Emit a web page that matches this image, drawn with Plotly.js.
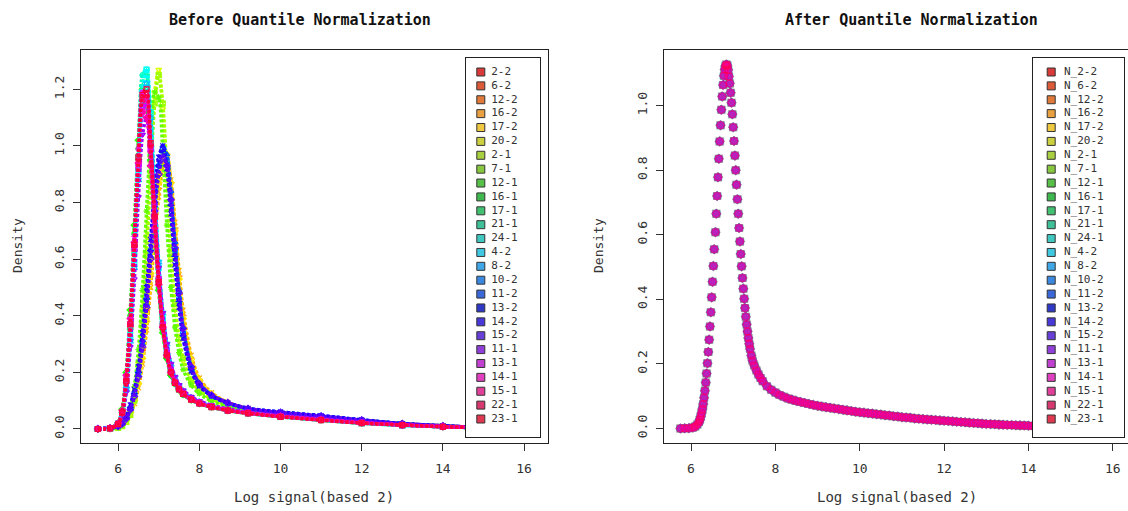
<!DOCTYPE html>
<html>
<head>
<meta charset="utf-8">
<script src="https://cdn.plot.ly/plotly-3.0.1.min.js"></script>
<style>
html,body{margin:0;padding:0;background:#fff;}
#chart{width:1128px;height:511px;}
</style>
</head>
<body>
<div id="chart"></div>
<script>
// ---------------- DATA ----------------
const sampleNames = ['2-2','6-2','12-2','16-2','17-2','20-2','2-1','7-1','12-1','16-1','17-1','21-1','24-1',
  '4-2','8-2','10-2','11-2','13-2','14-2','15-2','11-1','13-1','14-1','15-1','22-1','23-1'];
const normNames = sampleNames.map(function(s){ return 'N_' + s; });

// density grid (log2 signal) used for the "before" curves
const xBefore = [5.5, 5.8, 6.0, 6.1, 6.2, 6.3, 6.4, 6.5, 6.6, 6.7, 6.8, 6.9, 7.0, 7.1, 7.2, 7.3, 7.4, 7.5, 7.6, 7.8, 8.0, 8.3, 8.7, 9.2, 10, 11, 12, 13, 14, 15, 16, 16.2];

// densities before normalization (one array per sample)
const b_2_2  = [0,.002,.018,.06,.17,.36,.63,.92,1.12,1.14,.98,.74,.52,.36,.26,.2,.165,.142,.125,.105,.092,.08,.068,.058,.046,.034,.023,.015,.009,.004,.0015,.0005];
const b_6_2  = [0,.002,.008,.016,.035,.065,.11,.18,.28,.42,.59,.76,.89,.96,.95,.84,.67,.5,.37,.23,.165,.12,.09,.07,.056,.043,.03,.018,.01,.005,.002,.001];
const b_12_2 = [0,.002,.007,.015,.032,.06,.1,.16,.25,.38,.54,.71,.85,.94,.96,.87,.71,.54,.4,.25,.175,.125,.093,.071,.057,.044,.03,.019,.011,.005,.002,.001];
const b_16_2 = [0,.002,.006,.013,.028,.053,.09,.145,.23,.35,.5,.67,.82,.92,.95,.88,.73,.56,.42,.26,.18,.128,.094,.072,.057,.044,.03,.019,.011,.005,.002,.001];
const b_17_2 = [0,.002,.007,.015,.031,.058,.1,.16,.25,.38,.55,.72,.87,.96,.97,.87,.7,.53,.39,.245,.172,.124,.092,.071,.056,.043,.03,.019,.011,.005,.002,.001];
const b_20_2 = [0,.001,.005,.012,.03,.06,.12,.23,.42,.68,.96,1.19,1.27,1.13,.86,.6,.42,.31,.24,.17,.135,.105,.083,.066,.052,.039,.026,.016,.01,.005,.002,.001];
const b_2_1  = [0,.001,.004,.01,.025,.05,.1,.2,.37,.62,.9,1.15,1.25,1.15,.9,.63,.44,.32,.25,.175,.138,.107,.084,.067,.053,.04,.027,.017,.01,.005,.002,.001];
const b_7_1  = [0,.001,.006,.015,.036,.075,.15,.28,.49,.77,1.03,1.19,1.17,.98,.72,.5,.36,.27,.21,.155,.125,.098,.079,.064,.05,.038,.026,.016,.01,.005,.002,.001];
const b_12_1 = [0,.003,.022,.07,.2,.42,.72,1.02,1.2,1.15,.95,.7,.49,.34,.25,.19,.16,.138,.122,.103,.09,.078,.066,.057,.045,.033,.022,.014,.008,.004,.0015,.0005];
const b_16_1 = [0,.003,.02,.065,.19,.4,.69,.99,1.17,1.15,.97,.72,.5,.35,.25,.19,.16,.138,.122,.103,.09,.078,.066,.056,.044,.032,.021,.014,.008,.004,.0015,.0005];
const b_17_1 = [0,.002,.018,.06,.17,.37,.65,.96,1.19,1.2,1.01,.75,.52,.36,.26,.2,.163,.14,.124,.104,.091,.078,.066,.056,.044,.032,.021,.014,.008,.004,.0015,.0005];
const b_21_1 = [0,.002,.016,.055,.16,.35,.63,.95,1.21,1.25,1.06,.78,.53,.37,.26,.2,.163,.14,.123,.103,.09,.077,.065,.055,.043,.031,.021,.013,.008,.004,.0015,.0005];
const b_24_1 = [0,.002,.015,.05,.15,.34,.62,.96,1.25,1.27,1.06,.77,.52,.36,.26,.2,.162,.14,.123,.103,.09,.077,.065,.055,.043,.031,.02,.013,.008,.004,.0015,.0005];
const b_4_2  = [0,.002,.014,.048,.14,.32,.59,.91,1.19,1.27,1.12,.84,.57,.39,.28,.21,.17,.145,.128,.107,.093,.079,.066,.056,.044,.032,.021,.013,.008,.004,.0015,.0005];
const b_8_2  = [0,.003,.016,.05,.14,.31,.57,.88,1.14,1.22,1.1,.84,.59,.41,.3,.23,.18,.153,.134,.111,.096,.081,.068,.058,.046,.034,.022,.014,.008,.004,.0015,.0005];
const b_10_2 = [.001,.003,.01,.02,.04,.075,.125,.2,.31,.46,.63,.8,.93,.99,.95,.81,.63,.46,.34,.21,.155,.117,.09,.07,.057,.045,.031,.019,.011,.005,.002,.001];
const b_11_2 = [.001,.003,.009,.019,.038,.07,.12,.19,.3,.44,.61,.79,.93,1.0,.97,.84,.66,.49,.36,.22,.16,.12,.093,.073,.06,.047,.032,.019,.011,.005,.002,.001];
const b_13_2 = [.001,.003,.01,.02,.04,.075,.125,.2,.31,.46,.63,.8,.93,.98,.93,.79,.61,.45,.33,.21,.155,.118,.092,.072,.059,.046,.032,.019,.011,.005,.002,.001];
const b_14_2 = [.001,.004,.011,.022,.045,.085,.14,.22,.34,.5,.67,.84,.96,1.0,.92,.76,.58,.43,.32,.205,.152,.117,.092,.073,.06,.047,.032,.019,.011,.005,.002,.001];
const b_15_2 = [.001,.003,.009,.018,.036,.068,.115,.185,.29,.43,.6,.77,.9,.96,.93,.81,.64,.48,.355,.22,.16,.12,.093,.072,.058,.045,.031,.019,.011,.005,.002,.001];
const b_11_1 = [0,.004,.018,.05,.13,.29,.53,.82,1.04,1.1,1.0,.79,.57,.41,.3,.23,.185,.156,.137,.114,.099,.084,.071,.06,.048,.036,.024,.015,.009,.004,.0015,.0005];
const b_13_1 = [0,.003,.019,.06,.17,.37,.64,.93,1.13,1.15,.99,.75,.53,.37,.27,.205,.167,.143,.126,.106,.092,.079,.067,.057,.045,.033,.022,.014,.008,.004,.0015,.0005];
const b_14_1 = [0,.002,.019,.062,.18,.39,.68,.99,1.19,1.17,.98,.73,.51,.36,.26,.2,.163,.14,.124,.104,.091,.078,.066,.056,.044,.032,.021,.014,.008,.004,.0015,.0005];
const b_15_1 = [0,.003,.02,.065,.19,.39,.66,.94,1.12,1.1,.93,.71,.51,.36,.26,.2,.165,.142,.125,.105,.092,.079,.067,.057,.045,.033,.022,.014,.008,.004,.0015,.0005];
const b_22_1 = [0,.002,.018,.06,.17,.37,.65,.95,1.16,1.18,1.0,.75,.52,.36,.26,.2,.163,.14,.124,.104,.09,.078,.066,.056,.044,.032,.021,.014,.008,.004,.0015,.0005];
const b_23_1 = [0,.002,.017,.058,.17,.37,.65,.96,1.18,1.2,1.01,.75,.52,.36,.26,.2,.163,.14,.124,.104,.09,.077,.065,.055,.043,.031,.021,.014,.008,.004,.0015,.0005];

const beforeDensities = [b_2_2,b_6_2,b_12_2,b_16_2,b_17_2,b_20_2,b_2_1,b_7_1,b_12_1,b_16_1,b_17_1,b_21_1,b_24_1,
  b_4_2,b_8_2,b_10_2,b_11_2,b_13_2,b_14_2,b_15_2,b_11_1,b_13_1,b_14_1,b_15_1,b_22_1,b_23_1];

// after quantile normalization every sample has the same density
const xAfter = [5.75,5.85,5.95,6.05,6.1,6.15,6.19,6.21,6.23,6.25,6.27,6.29,6.31,6.33,6.35,6.37,6.39,6.41,6.43,6.45,6.47,6.49,6.51,6.53,6.55,6.58,6.6,6.62,6.64,6.66,6.68,6.7,6.72,6.74,6.76,6.78,6.8,6.82,6.84,6.86,6.88,6.9,6.92,6.94,6.96,6.98,7.0,7.02,7.04,7.06,7.08,7.1,7.12,7.14,7.16,7.18,7.2,7.22,7.24,7.26,7.28,7.3,7.32,7.34,7.36,7.38,7.4,7.43,7.46,7.5,7.55,7.6,7.65,7.7,7.8,7.9,8.0,8.1,8.2,8.3,8.4,8.5,8.6,8.7,8.8,8.9,9.0,9.1,9.2,9.3,9.4,9.5,9.6,9.7,9.8,9.9,10.0,10.1,10.2,10.3,10.4,10.5,10.6,10.7,10.8,10.9,11.0,11.1,11.2,11.3,11.4,11.5,11.6,11.7,11.8,11.9,12.0,12.1,12.2,12.3,12.4,12.5,12.6,12.7,12.8,12.9,13.0,13.1,13.2,13.3,13.4,13.5,13.6,13.7,13.8,13.9,14.0,14.1,14.2,14.4,14.6,15,15.5,16];
const densAfter = [0,.0005,.001,.003,.006,.012,.02,.027,.036,.047,.06,.076,.095,.117,.142,.17,.202,.237,.275,.316,.36,.406,.454,.503,.555,.608,.665,.72,.778,.835,.889,.939,.987,1.028,1.064,1.092,1.112,1.123,1.127,1.124,1.11,1.09,1.068,1.04,1.009,.973,.933,.89,.845,.8,.755,.71,.665,.621,.579,.54,.502,.466,.433,.402,.373,.346,.322,.3,.28,.262,.246,.226,.21,.195,.18,.167,.156,.146,.131,.12,.111,.104,.098,.093,.089,.085,.082,.079,.076,.073,.07,.068,.066,.064,.062,.06,.058,.056,.054,.052,.05,.049,.047,.046,.044,.043,.041,.04,.038,.037,.035,.034,.033,.031,.03,.029,.028,.027,.026,.025,.024,.023,.022,.021,.02,.019,.018,.017,.016,.015,.014,.0135,.013,.012,.0115,.011,.0105,.01,.0095,.009,.0085,.008,.0075,.007,.006,.005,.003,.002];

const xTicks = [6, 8, 10, 12, 14, 16];

// ---------------- STYLE ----------------
const colors = ['#FF0000','#FF3B00','#FF7600','#FFB100','#FFEB00','#D8FF00','#9DFF00','#62FF00','#27FF00','#00FF14',
  '#00FF4E','#00FF89','#00FFC4','#00FFFF','#00C4FF','#0089FF','#004EFF','#0014FF','#2700FF','#6200FF',
  '#9D00FF','#D800FF','#FF00EB','#FF00B1','#FF0076','#FF003B'];
const legendColors = ['#D83A3A','#DD5A38','#E07A3A','#E8A040','#EEC840','#CCD040','#A8D040','#88C840','#58C048','#40B850',
  '#40C070','#40C098','#40C8C0','#40C8E0','#40A8E8','#3A88E0','#3A68D8','#3038C8','#4838D8','#6840D8',
  '#9040D8','#C040D0','#E040C0','#E0409A','#D83870','#E03850'];
const symbols = ['circle-open','triangle-up-open','cross-thin-open','x-thin-open','diamond-open','triangle-down-open',
  'square-x-open','asterisk-open','diamond-cross-open','circle-x-open','square-open','star-open','circle-cross-open',
  'square-cross-open','hexagram-open','circle-open','triangle-up-open','cross-thin-open','x-thin-open','diamond-open',
  'triangle-down-open','square-x-open','asterisk-open','diamond-cross-open','circle-x-open','square-open'];
const MONO = '"DejaVu Sans Mono", "Liberation Mono", monospace';
const TXT = '#333333';

const W = 1128, H = 511;
const px = function(v){ return v / W; };
const py = function(v){ return (H - v) / H; };

const traces = [];
sampleNames.forEach(function(name, i){
  traces.push({
    type: 'scatter', mode: 'lines+markers', name: name, showlegend: false,
    x: xBefore, y: beforeDensities[i], xaxis: 'x', yaxis: 'y',
    line: {color: colors[i], width: 3.5, shape: 'spline', smoothing: 0.8, dash: '3px,2px'},
    marker: {symbol: symbols[i], size: 5, color: colors[i], line: {color: colors[i], width: 1.2}},
    hoverinfo: 'skip'
  });
});
normNames.forEach(function(name, i){
  traces.push({
    type: 'scatter', mode: 'markers', name: name, showlegend: false,
    x: xAfter, y: densAfter, xaxis: 'x2', yaxis: 'y2',
    marker: {symbol: symbols[i], size: 6.5, color: colors[i], opacity: 0.3, line: {color: colors[i], width: 1.5}},
    hoverinfo: 'skip'
  });
});
// legend boxes drawn as small subplots: squares + labels
function legendTraces(labels, xa, ya){
  const yk = labels.map(function(_, k){ return k; });
  return [{
    type: 'scatter', mode: 'markers', showlegend: false, xaxis: xa, yaxis: ya,
    x: labels.map(function(){ return 0.2; }), y: yk,
    marker: {symbol: 'square', size: 8, color: legendColors, line: {color: '#333', width: 1}},
    cliponaxis: false, hoverinfo: 'skip'
  }, {
    type: 'scatter', mode: 'text', showlegend: false, xaxis: xa, yaxis: ya,
    x: labels.map(function(){ return 0.34; }), y: yk,
    text: labels, textposition: 'middle right',
    textfont: {family: MONO, size: 11, color: TXT},
    cliponaxis: false, hoverinfo: 'skip'
  }];
}
legendTraces(sampleNames, 'x3', 'y3').forEach(function(t){ traces.push(t); });
legendTraces(normNames, 'x4', 'y4').forEach(function(t){ traces.push(t); });

const yDom = [py(443), py(50)];
const tickFont = {family: MONO, size: 13, color: TXT};
function xAxis(dom, range, mirror){
  return {domain: dom, range: range, tickvals: xTicks, ticktext: xTicks.map(String),
    ticks: 'outside', ticklen: 7, tickwidth: 1, tickcolor: '#333', ticklabelstandoff: 6,
    showline: true, linecolor: '#222', linewidth: 1, mirror: mirror,
    showgrid: false, zeroline: false, tickfont: tickFont, fixedrange: true};
}
function yAxis(dom, range, anchor, mirror, maxv){
  const tv = []; for (let v = 0; v <= maxv + 1e-9; v += 0.2) tv.push(Math.round(v*10)/10);
  return {domain: dom, range: range, anchor: anchor, tickvals: tv, ticktext: tv.map(function(v){return v.toFixed(1);}),
    ticks: 'outside', ticklen: 7, tickwidth: 1, tickcolor: '#333', tickangle: -90, ticklabelstandoff: 4,
    showline: true, linecolor: '#222', linewidth: 1, mirror: mirror,
    showgrid: false, zeroline: false, tickfont: tickFont, fixedrange: true};
}
function legAxis(dom, range, anchor){
  return {domain: dom, range: range, anchor: anchor, showline: true, mirror: true, linecolor: '#222', linewidth: 1,
    showticklabels: false, ticks: '', showgrid: false, zeroline: false, fixedrange: true};
}

const legYDom = [py(437), py(58)];
const legYRange = [(437-72)/13.88, -(72-58)/13.88];

function ann(text, x, y, size, angle){
  return {text: text, x: px(x), y: py(y), xref: 'paper', yref: 'paper', xanchor: 'center', yanchor: 'middle',
    showarrow: false, textangle: angle || 0, font: {family: MONO, size: size, color: size > 14 ? '#111' : TXT}};
}

const layout = {
  width: W, height: H, margin: {l:0, r:0, t:0, b:0},
  paper_bgcolor: '#fff', plot_bgcolor: '#fff', showlegend: false,
  xaxis: xAxis([px(81), px(548)], [5.085, 16.59], true),
  yaxis: yAxis(yDom, [-0.0495, 1.339], 'x', true, 1.2),
  xaxis2: Object.assign(xAxis([px(664), 1], [5.36, 16.36], true), {anchor: 'y2'}),
  yaxis2: yAxis(yDom, [-0.045, 1.172], 'x2', false, 1.0),
  xaxis3: legAxis([px(466), px(540)], [0, 1], 'y3'),
  yaxis3: legAxis(legYDom, legYRange, 'x3'),
  xaxis4: legAxis([px(1033), px(1124)], [0, 1], 'y4'),
  yaxis4: legAxis(legYDom, legYRange, 'x4'),
  annotations: [
    ann('<b>Before Quantile Normalization</b>', 300, 20, 15),
    ann('<b>After Quantile Normalization</b>', 911, 20, 15),
    ann('Log signal(based 2)', 314, 497, 14),
    ann('Log signal(based 2)', 897, 497, 14),
    ann('Density', 17, 246, 13, -90),
    ann('Density', 598, 246, 13, -90)
  ]
};

Plotly.newPlot('chart', traces, layout, {displayModeBar: false, staticPlot: true});
</script>
</body>
</html>
